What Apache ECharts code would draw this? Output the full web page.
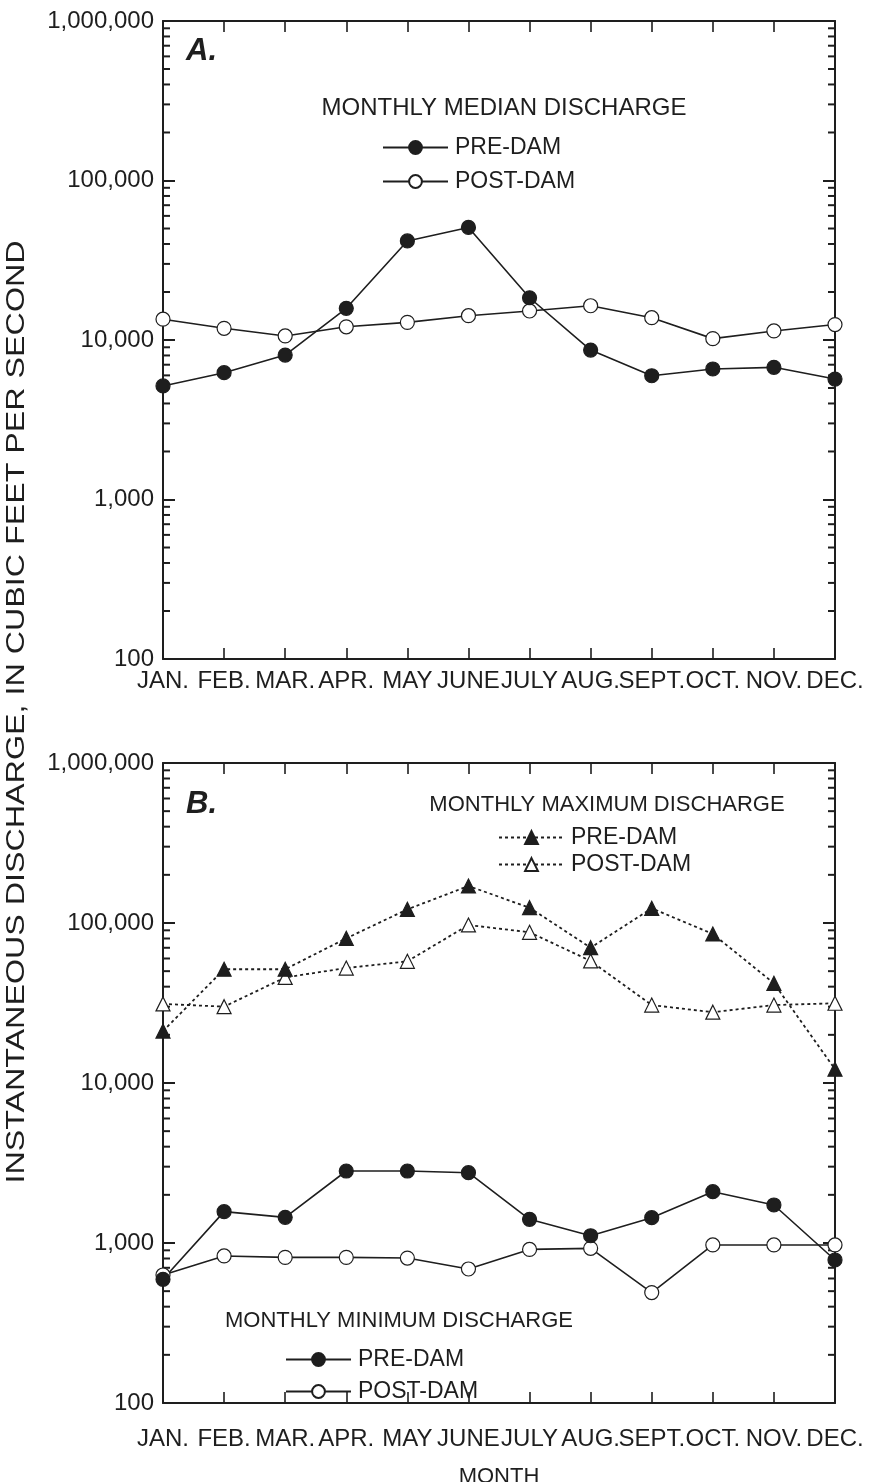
<!DOCTYPE html>
<html><head><meta charset="utf-8">
<script src="https://cdn.jsdelivr.net/npm/echarts@6/dist/echarts.min.js"></script>
<style>html,body{margin:0;padding:0;background:#fff}#c{width:869px;height:1482px}</style>
</head><body><div id="c"></div>
<script>
const months = ['JAN.','FEB.','MAR.','APR.','MAY','JUNE','JULY','AUG.','SEPT.','OCT.','NOV.','DEC.'];
const medianPre  = [5150, 6240, 8050, 15800, 41800, 50800, 18400, 8650, 5970, 6580, 6740, 5690];
const medianPost = [13500, 11840, 10600, 12100, 12900, 14200, 15200, 16400, 13800, 10200, 11400, 12500];
const maxPre  = [21100, 51400, 51400, 80200, 121700, 170300, 124700, 70100, 123500, 85400, 42000, 12200];
const maxPost = [31200, 30000, 45700, 52300, 57600, 97200, 87500, 57900, 30700, 27700, 30700, 31500];
const minPre  = [593, 1570, 1446, 2818, 2818, 2750, 1406, 1110, 1440, 2093, 1728, 783];
const minPost = [631, 830, 813, 813, 805, 688, 912, 926, 490, 972, 972, 972];
const yMin = 100, yMax = 1000000;

const FONT = "'Liberation Sans', Arial, Helvetica, sans-serif";
const INK = '#1e1e1e';
const FS = 24;

const minorTicks = [];
for (let d = yMin; d < yMax; d *= 10) for (let k = 2; k <= 9; k++) minorTicks.push([0, k * d]);

const chart = echarts.init(document.getElementById('c'), null, {renderer: 'canvas'});

function grid(top, height) {
  return {left: 163, top: top, width: 672, height: height, outerBoundsMode: 'none', containLabel: false, show: false};
}
function xAxes(gi, margin, withName) {
  const base = {
    type: 'category', data: months, gridIndex: gi, boundaryGap: false,
    axisLine: {show: true, lineStyle: {color: INK, width: 2}},
    axisTick: {show: true, inside: true, length: 11, lineStyle: {color: INK, width: 1.6}},
    splitLine: {show: false}
  };
  const bottom = Object.assign({}, base, {
    position: 'bottom',
    axisLabel: {show: true, interval: 0, margin: margin, fontSize: FS, color: INK, fontFamily: FONT, hideOverlap: false}
  });
  if (withName) {
    Object.assign(bottom, {name: 'MONTH', nameLocation: 'middle', nameGap: 63,
      nameTextStyle: {fontSize: 22, color: INK, fontFamily: FONT}});
  }
  const top = Object.assign({}, base, {position: 'top', axisLabel: {show: false}});
  return [bottom, top];
}
function yAxes(gi) {
  const base = {
    type: 'log', logBase: 10, min: yMin, max: yMax, gridIndex: gi, splitNumber: 4,
    axisLine: {show: true, lineStyle: {color: INK, width: 2}},
    axisTick: {show: true, inside: true, length: 12, lineStyle: {color: INK, width: 2}},
    splitLine: {show: false}, minorTick: {show: false}
  };
  const left = Object.assign({}, base, {position: 'left',
    axisLabel: {show: true, margin: 9, fontSize: FS, color: INK, fontFamily: FONT,
      formatter: v => Number(v).toLocaleString('en-US')}});
  const right = Object.assign({}, base, {position: 'right', axisLabel: {show: false}});
  return [left, right];
}

function lineSeries(name, data, xi, yi, symbol, filled, dashed) {
  return {
    name: name, type: 'line', data: data, xAxisIndex: xi, yAxisIndex: yi,
    symbol: symbol, symbolSize: 14,
    showAllSymbol: true, animation: false, z: 3,
    lineStyle: {color: INK, width: dashed ? 1.8 : 1.6, type: dashed ? [3, 3] : 'solid'},
    itemStyle: {color: filled ? INK : '#fff', borderColor: INK, borderWidth: 1.2},
    emphasis: {disabled: true}
  };
}
function minorSeries(xi, yi) {
  return {
    type: 'custom', xAxisIndex: xi, yAxisIndex: yi, data: minorTicks, silent: true, animation: false, z: 2,
    renderItem: function (params, api) {
      const p = api.coord([0, api.value(1)]);
      const cs = params.coordSys;
      const y = p[1];
      const st = {stroke: INK, lineWidth: 2};
      return {type: 'group', children: [
        {type: 'line', shape: {x1: cs.x, y1: y, x2: cs.x + 7, y2: y}, style: st},
        {type: 'line', shape: {x1: cs.x + cs.width - 7, y1: y, x2: cs.x + cs.width, y2: y}, style: st}
      ]};
    }
  };
}
function legend(names, left, top, gap, fs) {
  return {
    data: names, orient: 'vertical', left: left, top: top, itemWidth: 65, itemHeight: 16, itemGap: gap,
    selectedMode: false, padding: 0,
    formatter: n => n.split('|')[1],
    textStyle: {fontSize: fs, color: INK, fontFamily: FONT, lineHeight: 23, padding: [0, 0, 0, 2]}
  };
}
const xa = xAxes(0, 10, false), xb = xAxes(1, 24, true);
const ya = yAxes(0), yb = yAxes(1);
xb[0].gridIndex = 1; xb[1].gridIndex = 1; yb[0].gridIndex = 1; yb[1].gridIndex = 1;

function txt(text, x, y, size, extra) {
  return {type: 'text', x: x, y: y, silent: true,
    style: Object.assign({text: text, fontSize: size, fontFamily: FONT, fill: INK, align: 'center', verticalAlign: 'middle'}, extra || {})};
}

chart.setOption({
  backgroundColor: '#fff',
  animation: false,
  grid: [grid(21, 638), grid(763, 640)],
  xAxis: [xa[0], xa[1], xb[0], xb[1]],
  yAxis: [ya[0], ya[1], yb[0], yb[1]],
  legend: [
    legend(['MEDIAN|PRE-DAM', 'MEDIAN|POST-DAM'], 382, 136, 11, 23),
    legend(['MAX|PRE-DAM', 'MAX|POST-DAM'], 498, 826, 4, 23),
    legend(['MIN|PRE-DAM', 'MIN|POST-DAM'], 285, 1348, 9, 23)
  ],
  series: [
    minorSeries(0, 0),
    minorSeries(2, 2),
    lineSeries('MEDIAN|POST-DAM', medianPost, 0, 0, 'circle', false, false),
    lineSeries('MEDIAN|PRE-DAM', medianPre, 0, 0, 'circle', true, false),
    lineSeries('MAX|POST-DAM', maxPost, 2, 2, 'triangle', false, true),
    lineSeries('MAX|PRE-DAM', maxPre, 2, 2, 'triangle', true, true),
    lineSeries('MIN|POST-DAM', minPost, 2, 2, 'circle', false, false),
    lineSeries('MIN|PRE-DAM', minPre, 2, 2, 'circle', true, false)
  ],
  graphic: [
    txt('MONTHLY MEDIAN DISCHARGE', 504, 108, 24),
    txt('MONTHLY MAXIMUM DISCHARGE', 607, 805, 22),
    txt('MONTHLY MINIMUM DISCHARGE', 399, 1321, 22),
    txt('A.', 186, 51, 31, {align: 'left', fontWeight: 'bold', fontStyle: 'italic'}),
    txt('B.', 186, 804, 31, {align: 'left', fontWeight: 'bold', fontStyle: 'italic'}),
    Object.assign(txt('INSTANTANEOUS DISCHARGE, IN CUBIC FEET PER SECOND', 17, 712, 25),
      {rotation: Math.PI / 2, scaleX: 1.29})
  ]
});
</script>
</body></html>
